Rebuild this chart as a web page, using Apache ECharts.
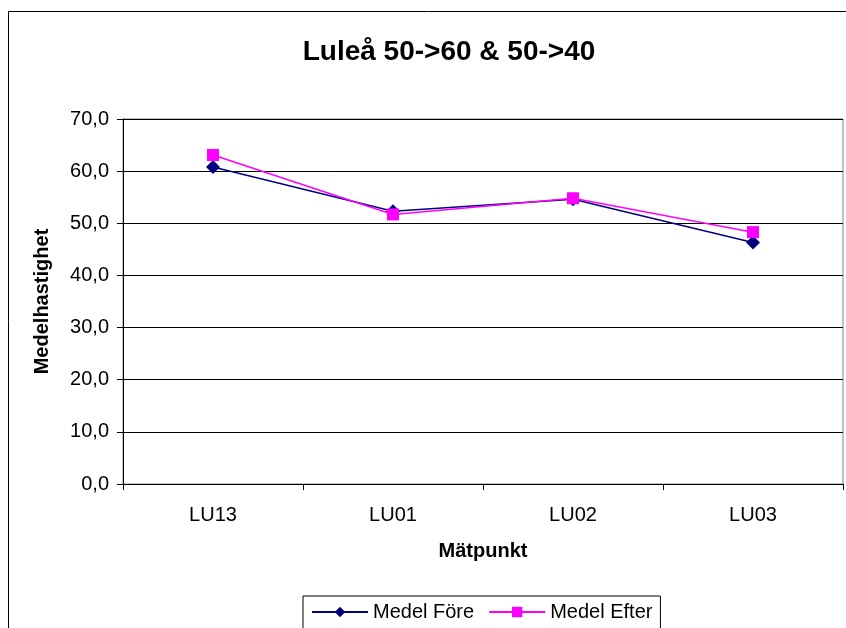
<!DOCTYPE html>
<html>
<head>
<meta charset="utf-8">
<script src="https://cdn.jsdelivr.net/npm/echarts@6/dist/echarts.min.js"></script>
<style>
  html, body { margin: 0; padding: 0; background: #fff; }
  #chart { width: 846px; height: 628px; }
</style>
</head>
<body>
<div id="chart"></div>
<script>
// mätpunkter och medelhastigheter
const categories = ['LU13', 'LU01', 'LU02', 'LU03']
const medelFore = [60.8, 52.3, 54.6, 46.3]
const medelEfter = [63.1, 51.7, 54.8, 48.3]

const font = '"Liberation Sans", Arial, sans-serif'
let myChart = echarts.init(document.getElementById('chart'))

let option = {
  backgroundColor: '#fff',
  animation: false,
  textStyle: { fontFamily: font },
  title: {
    text: 'Luleå 50->60 & 50->40',
    left: 444,
    top: 33,
    textAlign: 'center',
    textStyle: { fontFamily: font, fontSize: 28, fontWeight: 'bold', color: '#000' }
  },
  graphic: [
    {
      type: 'rect',
      shape: { x: 8.5, y: 11.5, width: 900, height: 700 },
      style: { fill: null, stroke: '#000', lineWidth: 1 },
      silent: true,
      z: -1
    }
  ],
  grid: {
    left: 123,
    top: 119,
    width: 720,
    height: 365,
    show: true,
    borderColor: '#808080',
    borderWidth: 1
  },
  legend: {
    left: 303,
    top: 596,
    itemWidth: 56,
    itemHeight: 13,
    itemGap: 14,
    padding: [6, 8, 30, 8],
    borderColor: '#000',
    borderWidth: 1,
    textStyle: { fontFamily: font, fontSize: 20, color: '#000' },
    data: ['Medel Före', 'Medel Efter']
  },
  xAxis: {
    type: 'category',
    data: categories,
    boundaryGap: true,
    name: 'Mätpunkt',
    nameLocation: 'middle',
    nameGap: 57,
    nameTextStyle: { fontFamily: font, fontSize: 20, fontWeight: 'bold', color: '#000' },
    axisLine: { lineStyle: { color: '#000', width: 1 } },
    axisTick: { show: true, alignWithLabel: false, length: 6, lineStyle: { color: '#000' } },
    axisLabel: { fontFamily: font, fontSize: 20, color: '#000', margin: 21 }
  },
  yAxis: {
    type: 'value',
    min: 0,
    max: 70,
    interval: 10,
    name: 'Medelhastighet',
    nameLocation: 'middle',
    nameGap: 71,
    nameTextStyle: { fontFamily: font, fontSize: 20, fontWeight: 'bold', color: '#000' },
    axisLine: { show: true, lineStyle: { color: '#000', width: 1 } },
    axisTick: { show: true, length: 6, lineStyle: { color: '#000' } },
    axisLabel: {
      fontFamily: font,
      fontSize: 20,
      color: '#000',
      margin: 14,
      formatter: function (v) { return v.toFixed(1).replace('.', ',') }
    },
    splitLine: { show: true, lineStyle: { color: '#000', width: 1 } }
  },
  series: [
    {
      name: 'Medel Före',
      type: 'line',
      data: medelFore,
      symbol: 'diamond',
      symbolSize: 14,
      itemStyle: { color: '#000080' },
      lineStyle: { color: '#000080', width: 1.5 },
      z: 2
    },
    {
      name: 'Medel Efter',
      type: 'line',
      data: medelEfter,
      symbol: 'rect',
      symbolSize: 12,
      itemStyle: { color: '#FF00FF' },
      lineStyle: { color: '#FF00FF', width: 1.5 },
      z: 3
    }
  ]
}
myChart.setOption(option)
</script>
</body>
</html>
